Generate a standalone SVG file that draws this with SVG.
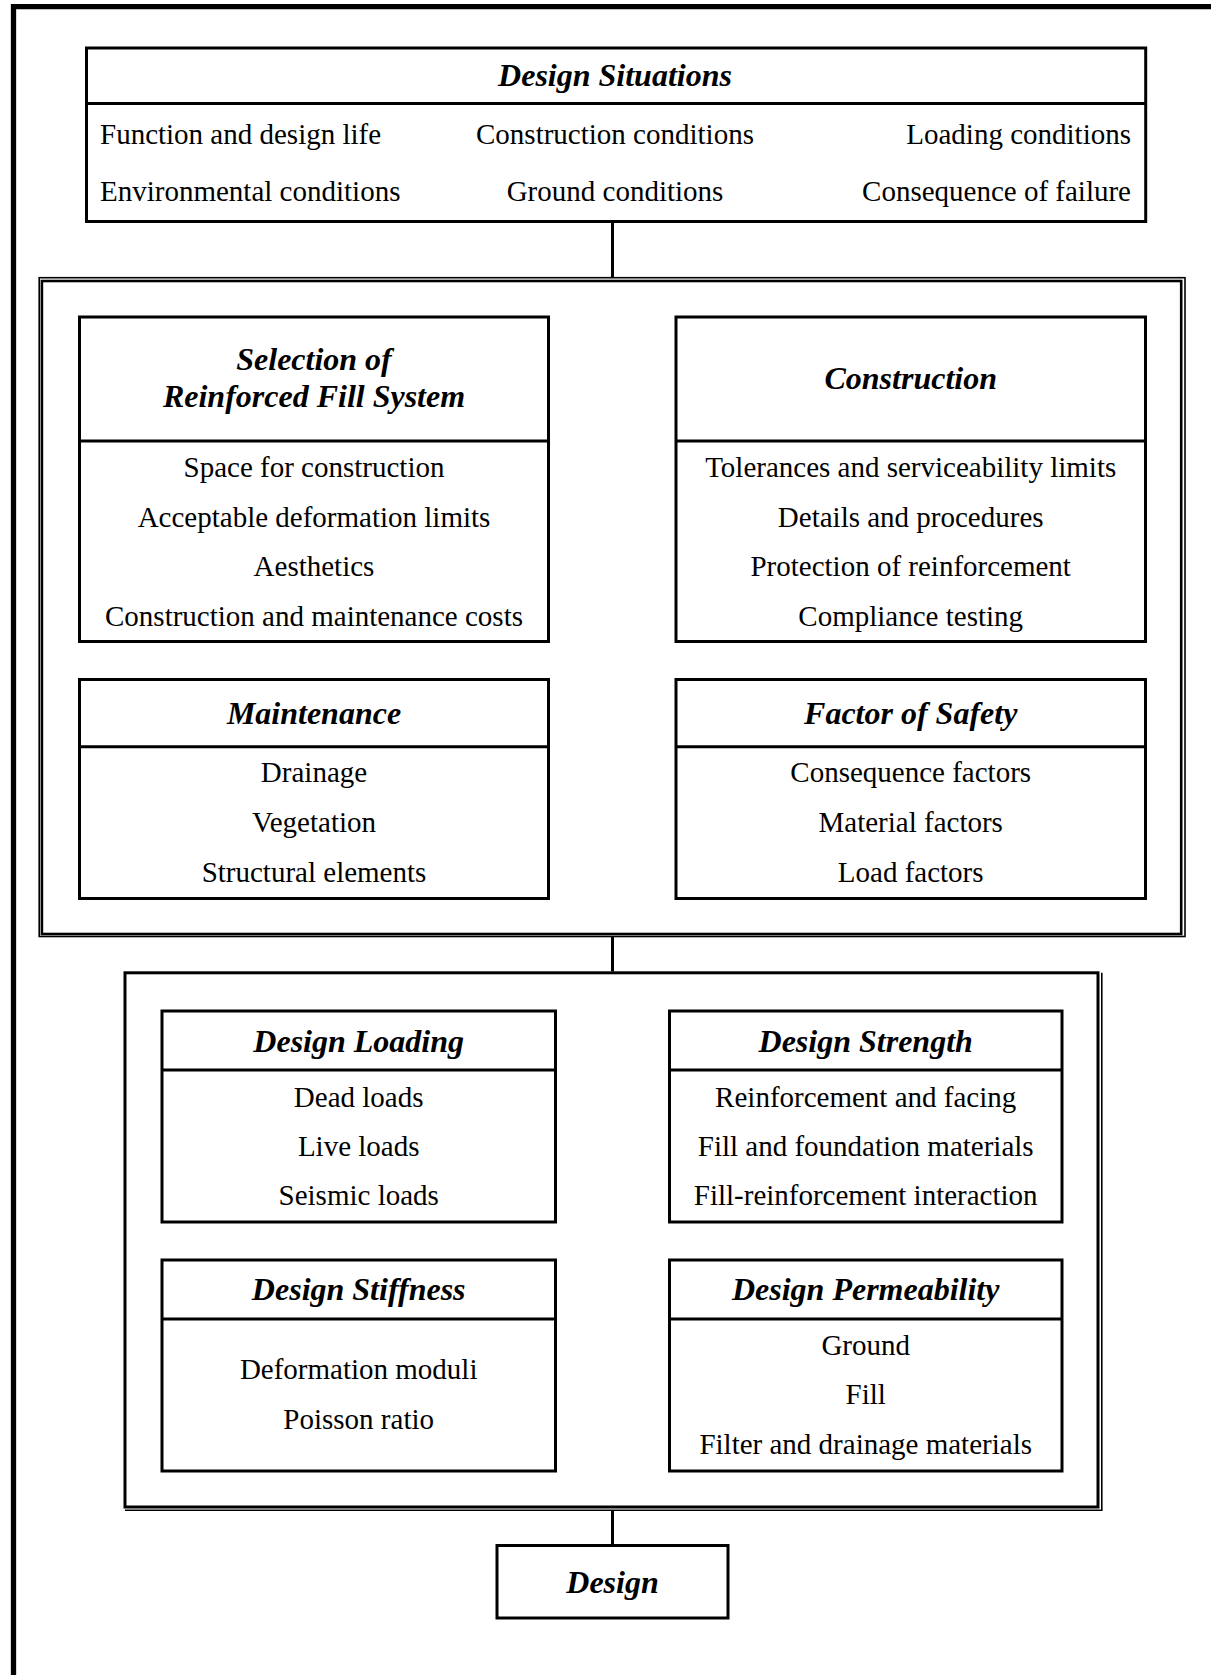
<svg xmlns="http://www.w3.org/2000/svg" width="1211" height="1675" viewBox="0 0 1211 1675">
<style>
.box{fill:#fff;stroke:#000;stroke-width:3}
.ln{fill:none;stroke:#000;stroke-width:3}
.thin{fill:none;stroke:#000;stroke-width:1.6}
.thick{fill:none;stroke:#000;stroke-width:2.6}
.t{font-family:"Liberation Serif","Times New Roman",serif;font-size:29px;fill:#000;text-anchor:middle}
.l{text-anchor:start}
.r{text-anchor:end}
.h{font-family:"Liberation Serif","Times New Roman",serif;font-size:32px;font-weight:bold;font-style:italic;fill:#000;text-anchor:middle}
</style>
<rect x="0" y="0" width="1211" height="1675" fill="#fff"/>
<path d="M13.5 1675 V6.7 H1211" fill="none" stroke="#000" stroke-width="5.3"/>

<g id="connectors">
<line class="ln" x1="612.5" y1="221.5" x2="612.5" y2="278"/>
<line class="ln" x1="612.5" y1="936.5" x2="612.5" y2="971.5"/>
<line class="ln" x1="612.5" y1="1510" x2="612.5" y2="1545.5"/>
</g>

<g id="design-situations">
<rect class="box" x="86.5" y="48" width="1059.2" height="173.5"/>
<line class="ln" x1="86.5" y1="103.5" x2="1145.7" y2="103.5"/>
<text class="h" x="615" y="86">Design Situations</text>
<text class="t l" x="100" y="144">Function and design life</text>
<text class="t" x="615" y="144">Construction conditions</text>
<text class="t r" x="1131" y="144">Loading conditions</text>
<text class="t l" x="100" y="201">Environmental conditions</text>
<text class="t" x="615" y="201">Ground conditions</text>
<text class="t r" x="1131" y="201">Consequence of failure</text>
</g>

<g id="considerations-group">
<rect class="thin" x="39.2" y="277.7" width="1145.8" height="658.8"/>
<rect class="thick" x="41.9" y="281" width="1139.3" height="653"/>
</g>

<g id="selection">
<rect class="box" x="79.5" y="317" width="469" height="324.5"/>
<line class="ln" x1="79.5" y1="441" x2="548.5" y2="441"/>
<text class="h" x="314" y="370">Selection of</text>
<text class="h" x="314" y="407">Reinforced Fill System</text>
<text class="t" x="314" y="477">Space for construction</text>
<text class="t" x="314" y="527">Acceptable deformation limits</text>
<text class="t" x="314" y="576">Aesthetics</text>
<text class="t" x="314" y="626">Construction and maintenance costs</text>
</g>

<g id="construction">
<rect class="box" x="676" y="317" width="469.5" height="324.5"/>
<line class="ln" x1="676" y1="441" x2="1145.5" y2="441"/>
<text class="h" x="910.7" y="389">Construction</text>
<text class="t" x="910.7" y="477">Tolerances and serviceability limits</text>
<text class="t" x="910.7" y="527">Details and procedures</text>
<text class="t" x="910.7" y="576">Protection of reinforcement</text>
<text class="t" x="910.7" y="626">Compliance testing</text>
</g>

<g id="maintenance">
<rect class="box" x="79.5" y="679.5" width="469" height="219"/>
<line class="ln" x1="79.5" y1="746.7" x2="548.5" y2="746.7"/>
<text class="h" x="314" y="724">Maintenance</text>
<text class="t" x="314" y="782">Drainage</text>
<text class="t" x="314" y="832">Vegetation</text>
<text class="t" x="314" y="882">Structural elements</text>
</g>

<g id="factor-of-safety">
<rect class="box" x="676" y="679.5" width="469.5" height="219"/>
<line class="ln" x1="676" y1="746.7" x2="1145.5" y2="746.7"/>
<text class="h" x="910.7" y="724">Factor of Safety</text>
<text class="t" x="910.7" y="782">Consequence factors</text>
<text class="t" x="910.7" y="832">Material factors</text>
<text class="t" x="910.7" y="882">Load factors</text>
</g>

<g id="design-parameters-group">
<rect class="box" x="125" y="972.8" width="973" height="534.2"/>
<path class="thin" d="M125 1510.2 H1101.8 V972.8"/>
</g>

<g id="design-loading">
<rect class="box" x="162" y="1011" width="393.5" height="211"/>
<line class="ln" x1="162" y1="1070" x2="555.5" y2="1070"/>
<text class="h" x="358.7" y="1052">Design Loading</text>
<text class="t" x="358.7" y="1107">Dead loads</text>
<text class="t" x="358.7" y="1156">Live loads</text>
<text class="t" x="358.7" y="1205">Seismic loads</text>
</g>

<g id="design-strength">
<rect class="box" x="669.5" y="1011" width="392.5" height="211"/>
<line class="ln" x1="669.5" y1="1070" x2="1062" y2="1070"/>
<text class="h" x="865.7" y="1052">Design Strength</text>
<text class="t" x="865.7" y="1107">Reinforcement and facing</text>
<text class="t" x="865.7" y="1156">Fill and foundation materials</text>
<text class="t" x="865.7" y="1205">Fill-reinforcement interaction</text>
</g>

<g id="design-stiffness">
<rect class="box" x="162" y="1260" width="393.5" height="211"/>
<line class="ln" x1="162" y1="1319" x2="555.5" y2="1319"/>
<text class="h" x="358.7" y="1300">Design Stiffness</text>
<text class="t" x="358.7" y="1379">Deformation moduli</text>
<text class="t" x="358.7" y="1429">Poisson ratio</text>
</g>

<g id="design-permeability">
<rect class="box" x="669.5" y="1260" width="392.5" height="211"/>
<line class="ln" x1="669.5" y1="1319" x2="1062" y2="1319"/>
<text class="h" x="865.7" y="1300">Design Permeability</text>
<text class="t" x="865.7" y="1355">Ground</text>
<text class="t" x="865.7" y="1404">Fill</text>
<text class="t" x="865.7" y="1454">Filter and drainage materials</text>
</g>

<g id="design">
<rect class="box" x="497" y="1545.5" width="231" height="72.5"/>
<text class="h" x="612.5" y="1593">Design</text>
</g>
</svg>
